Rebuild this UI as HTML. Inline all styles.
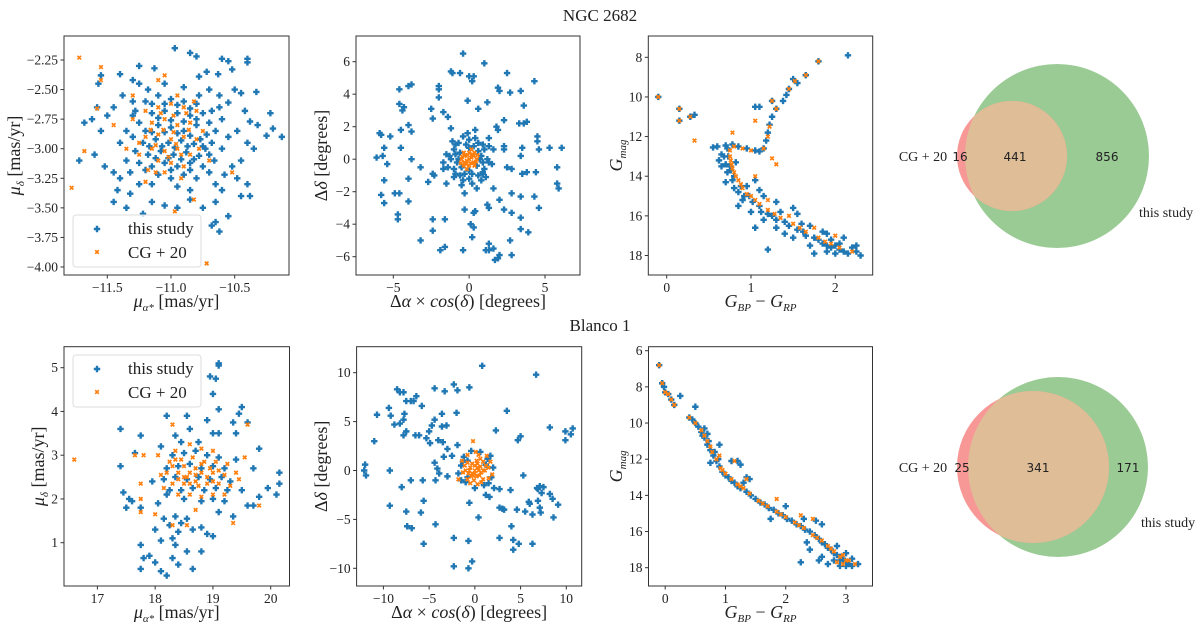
<!DOCTYPE html>
<html><head><meta charset="utf-8"><style>
html,body{margin:0;padding:0;background:#fff}
svg{display:block}
text{font-family:"Liberation Serif",serif;fill:#222}
.num{font-family:"DejaVu Sans","Liberation Sans",sans-serif;font-size:12px}
</style></head><body>
<svg id="fig" width="1200" height="630" viewBox="0 0 1200 630" xmlns="http://www.w3.org/2000/svg">
<text x="600" y="21" text-anchor="middle" font-size="17">NGC 2682</text>
<text x="600" y="331" text-anchor="middle" font-size="17">Blanco 1</text>
<g>
<defs><clipPath id="cg1"><circle cx="1057" cy="156" r="92"/></clipPath><clipPath id="cg2"><circle cx="1058" cy="467" r="90"/></clipPath></defs>
<circle cx="1057" cy="156" r="92" fill="#9bcb95"/>
<circle cx="1012" cy="156" r="55" fill="#f79896"/>
<circle cx="1012" cy="156" r="55" fill="#dfbd97" clip-path="url(#cg1)"/>
<text x="923" y="161" text-anchor="middle" font-size="14">CG + 20</text>
<text x="960" y="161" text-anchor="middle" class="num">16</text>
<text x="1015" y="161" text-anchor="middle" class="num">441</text>
<text x="1107" y="161" text-anchor="middle" class="num">856</text>
<text x="1139" y="217" font-size="14">this study</text>
</g>
<g>
<circle cx="1058" cy="467" r="90" fill="#9bcb95"/>
<circle cx="1033" cy="467" r="76" fill="#f79896"/>
<circle cx="1033" cy="467" r="76" fill="#dfbd97" clip-path="url(#cg2)"/>
<text x="923" y="472" text-anchor="middle" font-size="14">CG + 20</text>
<text x="962" y="472" text-anchor="middle" class="num">25</text>
<text x="1038" y="472" text-anchor="middle" class="num">341</text>
<text x="1128" y="472" text-anchor="middle" class="num">171</text>
<text x="1141" y="527" font-size="14">this study</text>
</g>
</svg>
<script>
// ---- NGC 2682 proper motions ----
const ngcPmBlue=[[-10.97,-2.15],[-10.85,-2.19],[-10.8,-2.22],[-10.6,-2.24],[-10.55,-2.26],[-10.4,-2.24],[-10.4,-2.27],[-11.25,-2.3],[-11.13,-2.32],[-11.4,-2.37],[-10.72,-2.35],[-10.52,-2.33],[-10.78,-2.39],[-11.55,-2.38],[-11.57,-2.45],[-11.3,-2.42],[-10.63,-2.37],[-10.5,-2.5],[-10.45,-2.53],[-10.33,-2.52],[-10.55,-2.61],[-10.42,-2.68],[-10.38,-2.77],[-10.22,-2.7],[-10.32,-2.8],[-10.2,-2.83],[-10.13,-2.9],[-10.25,-2.89],[-10.48,-2.85],[-10.4,-2.95],[-10.35,-3.0],[-10.45,-3.1],[-10.52,-3.15],[-10.48,-3.25],[-10.4,-3.3],[-10.38,-3.4],[-10.45,-3.4],[-10.6,-3.35],[-10.55,-3.57],[-10.65,-3.62],[-10.62,-3.7],[-10.68,-3.65],[-10.75,-3.5],[-10.85,-3.43],[-10.95,-3.5],[-11.05,-3.48],[-11.15,-3.45],[-11.22,-3.55],[-11.35,-3.5],[-11.45,-3.45],[-11.42,-3.35],[-11.6,-3.05],[-11.68,-2.78],[-11.72,-3.1],[-11.62,-2.75],[-11.55,-2.85],[-11.58,-2.65],[-11.5,-2.72],[-11.45,-3.2],[-11.52,-3.15],[-11.32,-3.38],[-11.25,-3.3],[-11.38,-2.55],[-11.3,-2.6],[-10.7,-2.5],[-10.62,-2.55],[-10.65,-3.45],
[-11.2,-2.6],[-11.1,-2.55],[-11.0,-2.58],[-10.9,-2.6],[-10.8,-2.62],[-11.15,-2.7],[-11.05,-2.68],[-10.95,-2.7],[-10.85,-2.72],[-10.75,-2.7],[-10.7,-2.78],[-11.25,-2.78],[-11.2,-2.85],[-11.1,-2.8],[-11.0,-2.82],[-10.9,-2.85],[-10.8,-2.8],[-10.72,-2.88],[-10.65,-2.85],[-11.3,-2.9],[-11.22,-2.95],[-11.12,-2.92],[-11.02,-2.95],[-10.92,-2.93],[-10.82,-2.96],[-10.75,-2.98],[-10.68,-2.95],[-11.28,-3.02],[-11.18,-3.05],[-11.08,-3.02],[-10.98,-3.05],[-10.88,-3.03],[-10.78,-3.06],[-10.7,-3.05],[-11.25,-3.12],[-11.15,-3.15],[-11.05,-3.12],[-10.95,-3.15],[-10.85,-3.12],[-10.75,-3.15],[-11.1,-3.22],[-11.0,-3.25],[-10.9,-3.22],[-10.8,-3.25],[-11.35,-2.85],[-11.35,-3.1],[-10.6,-3.0],[-10.6,-2.75],[-11.05,-2.45],[-10.9,-2.48],[-11.15,-3.3],[-10.95,-3.32],[-10.7,-3.2],[-11.4,-2.95],[-10.55,-2.9],[-10.62,-2.65],[-10.66,-3.1],[-11.28,-2.68],[-11.18,-2.5],[-10.78,-2.55],[-10.85,-3.35],[-11.4,-3.25],[-10.58,-3.22],[-11.45,-2.65],
[-11.15,-2.62],[-11.05,-2.62],[-10.95,-2.63],[-10.85,-2.66],[-11.1,-2.74],[-11.0,-2.76],[-10.9,-2.77],[-10.8,-2.75],[-11.15,-2.86],[-11.05,-2.86],[-10.95,-2.87],[-10.85,-2.89],[-10.77,-2.92],[-11.17,-2.98],[-11.07,-2.98],[-10.97,-2.99],[-10.87,-2.98],[-10.73,-3.0],[-11.12,-3.08],[-11.02,-3.08],[-10.92,-3.09],[-10.82,-3.09],[-11.2,-3.18],[-11.0,-3.18],[-10.85,-3.18],[-11.3,-2.72],[-10.68,-2.68],[-11.32,-3.2],[-10.65,-3.3],[-11.25,-2.45]];
const ngcPmOrange=[[-11.72,-2.23],[-11.55,-2.31],[-11.78,-3.33],[-10.52,-3.2],[-10.82,-3.43],[-10.97,-3.53],[-10.72,-3.97],[-11.68,-3.02],[-11.58,-2.66],[-11.55,-2.42],[-11.1,-2.42],[-11.05,-2.38],[-11.45,-2.8],[-11.2,-3.28],[-11.3,-2.55],
[-11.1,-2.65],[-11.0,-2.62],[-10.9,-2.65],[-10.8,-2.68],[-11.15,-2.78],[-11.05,-2.75],[-10.95,-2.8],[-10.85,-2.78],[-11.2,-2.9],[-11.1,-2.88],[-11.0,-2.92],[-10.9,-2.9],[-10.8,-2.92],[-11.15,-3.0],[-11.05,-3.02],[-10.95,-3.0],[-10.85,-3.05],[-11.1,-3.1],[-11.0,-3.12],[-10.9,-3.15],[-11.25,-3.05],[-10.75,-2.85],[-11.3,-2.75],[-10.7,-3.1],[-11.05,-3.2],[-10.95,-2.55],[-11.12,-2.97],[-10.98,-2.86],[-11.02,-3.07],[-10.88,-2.7],[-11.25,-2.95],[-10.78,-3.0],[-11.35,-3.0],[-11.18,-3.18],[-10.92,-3.25],
[-11.06,-2.84],[-10.96,-2.96],[-11.16,-2.84],[-10.86,-2.84],[-11.08,-2.7],[-10.92,-3.05],[-11.2,-2.68],[-10.82,-2.6],[-11.12,-3.2],[-10.98,-2.72]];
// ---- NGC 2682 spatial ----
const ngcSkyBlue=[[-0.4,6.5],[1.0,5.9],[-1.1,5.3],[-1.2,5.4],[-0.6,5.3],[0.0,5.1],[0.3,5.1],[0.2,4.8],[2.5,5.3],[4.3,4.8],[-3.8,4.6],[-4.0,4.5],[-4.6,4.3],[-2.0,4.5],[-2.0,4.3],[1.9,4.4],[2.0,4.2],[2.7,4.1],[3.4,4.2],[-2.0,3.8],[-0.1,3.6],[1.2,3.5],[3.6,3.3],[-4.6,3.4],[-4.3,3.2],[-4.4,3.0],[-2.5,3.1],[-1.7,2.9],[-2.4,2.5],[-1.4,2.6],[0.6,3.1],[-4.0,2.1],[-4.5,1.8],[-3.8,1.7],[-5.9,1.6],[-5.8,1.5],[-5.2,1.4],[2.3,2.4],[1.8,2.0],[1.9,1.8],[3.3,2.2],[3.6,2.2],[3.8,2.3],[4.5,1.4],[4.5,1.1],[-5.6,0.7],[-4.5,0.7],[-6.1,0.1],[-5.7,0.2],[-5.4,-0.3],[-3.8,0.0],[-3.2,-0.5],[5.3,0.7],[6.1,0.7],[4.6,0.6],[3.4,0.2],[3.5,0.7],[2.3,0.6],[1.6,0.6],[2.3,0.8],[5.8,-0.5],[2.5,-0.5],[2.8,-0.6],[3.5,-0.9],[3.8,-0.8],[4.4,-0.8],[-2.4,-0.9],[-2.3,-1.0],[-1.7,-0.6],[-5.6,-1.3],[-4.0,-1.2],[-2.7,-1.4],[-1.5,-1.5],[-5.8,-2.2],[-4.9,-2.1],[-4.6,-2.1],[-5.6,-2.7],[-4.0,-2.6],[-0.3,-2.1],[1.6,-1.8],[2.0,-2.5],[2.8,-2.1],[3.4,-2.3],[4.3,-2.3],[1.2,-2.8],[1.3,-3.0],[2.3,-3.1],[2.8,-3.3],[4.6,-3.0],[-0.3,-3.1],[0.4,-3.2],[0.3,-3.3],[-4.7,-3.4],[-4.7,-3.7],[-2.4,-3.7],[-1.6,-3.7],[0.1,-4.0],[0.3,-4.2],[3.4,-3.6],[-2.4,-4.4],[0.2,-4.8],[3.4,-4.3],[3.9,-4.5],[-3.2,-5.0],[1.3,-5.2],[2.7,-5.0],[-1.6,-5.4],[-1.9,-5.6],[-0.4,-5.6],[1.1,-5.6],[1.3,-5.6],[1.6,-5.5],[2.0,-5.9],[2.8,-5.9],[1.7,-6.2],[1.9,-6.1],[5.8,-1.5],[5.9,-1.8],[0.9,-0.8],[-0.5,-1.6],[-1.0,-1.1],[1.3,1.3],[0.4,1.8],[-1.2,1.9],
[-1.2,0],[-1,0.6],[-0.7,1.0],[0,1.2],[0.6,1.0],[1,0.6],[1.2,0],[1,-0.6],[0.6,-1.0],[0,-1.2],[-0.6,-1.0],[-1,-0.6],[-0.6,0.4],[0.6,0.5],[-0.5,-0.5],[0.5,-0.4],[-0.9,0.3],[0.9,-0.2],[0.3,0.8],[-0.3,-0.9],[0.2,-1.5],[-0.4,1.4],[1.3,0.8],[-1.4,-0.5],[-0.1,1.6],[0.8,-1.3],[-0.8,-0.2],[0.8,0.2],[-0.2,0.9],[0.2,-0.9],[1.5,-0.3],[-1.5,0.3],
[-0.9,0.9],[0.9,0.9],[0.9,-0.9],[-0.9,-0.9],[-1.3,0.2],[1.3,-0.2],[0.4,1.3],[-0.4,-1.3],[-0.7,0.0],[0.7,0.0],[0,0.7],[0,-0.7],[1.1,-1.1],[-1.1,1.1],[0.5,-1.8],[-1.7,-0.2]];
const ngcSkyOrange=[[0,0],[0.3,0.2],[-0.3,0.2],[0.3,-0.2],[-0.3,-0.2],[0,0.4],[0,-0.4],[0.5,0],[-0.5,0],[0.35,0.4],[-0.35,0.4],[0.35,-0.4],[-0.35,-0.4],[0.15,0.6],[-0.15,-0.6],[0.55,0.25],[-0.55,-0.25],[0.15,0.1],[-0.15,-0.1],[0.2,0.3],[-0.2,-0.3],[0.45,-0.15],[-0.45,0.15],[0.1,-0.25],[-0.1,0.25]];
// ---- NGC 2682 CMD ----
const ngcCmdBlue=[[2.15,7.9],[1.8,8.2],[1.65,8.9],[1.5,9.1],[1.55,9.3],[1.45,9.6],[1.42,9.9],[1.38,10.2],[1.25,10.2],[1.3,10.6],[1.05,10.5],[1.1,10.5],[-0.1,10.0],[0.15,10.6],[0.15,11.2],[0.28,11.0],[0.33,10.9],[1.25,11.0],[1.22,11.4],[1.2,11.8],[1.18,12.2],[1.15,12.6],[1.1,12.75],[1.05,12.7],[0.95,12.6],[0.85,12.5],[0.78,12.4],[0.7,12.45],[0.6,12.5],[0.55,12.55],[0.62,13.2],[0.65,12.9],[0.72,12.6],[0.73,13.0],[0.75,13.5],[0.8,14.0],[0.72,13.8],[0.88,14.5],[0.8,14.6],[0.98,15.0],[0.9,15.2],[1.1,15.5],[1.0,15.8],[1.25,16.0],[1.15,16.2],[1.45,16.5],[1.3,16.6],[1.65,17.0],[1.5,17.1],[1.9,17.5],[1.7,17.5],[2.1,17.8],[2.0,17.9],[2.3,18.0],[2.2,17.6],[1.8,17.2],[1.2,17.7],[1.75,17.9],[1.4,16.9],[1.6,16.4],[1.05,16.6],[0.85,15.5],[0.95,14.5],[1.05,14.2],[1.15,15.0],[1.3,15.3],[1.35,15.8],[1.55,15.9],[1.7,16.5],[1.85,16.8],[1.95,17.2],[2.05,17.4],[2.25,17.5],[0.65,13.5],[0.7,14.3],[0.82,13.3],[1.1,14.7],[1.5,15.6],[1.9,16.9],[2.1,17.1],
[0.78,14.2],[0.85,14.8],[0.92,15.0],[1.02,15.3],[1.12,15.8],[1.2,15.9],[1.3,16.2],[1.4,16.3],[1.55,16.7],[1.62,16.8],[1.75,17.1],[1.85,17.4],[1.95,17.6],[2.05,17.7],[2.15,17.9],[2.25,17.8],[1.9,17.8],[2.0,17.5],[0.68,13.0],[0.7,13.4],[0.76,13.7]];
const ngcCmdOrange=[[1.8,8.2],[1.65,8.9],[1.52,9.2],[1.45,9.6],[1.25,10.2],[1.3,10.6],[-0.1,10.0],[0.15,10.6],[0.15,11.2],[0.28,11.0],[0.33,12.2],[1.05,11.2],[0.78,11.8],[1.25,13.1],[1.3,13.4],[1.05,14.0],[1.22,11.5],[1.2,12.0],[1.15,12.6],[1.0,12.7],[0.9,12.6],[0.8,12.5],[0.75,12.7],[0.75,13.0],[0.77,13.4],[0.8,13.8],[0.85,14.2],[0.9,14.6],[1.0,15.0],[1.1,15.4],[1.2,15.7],[1.35,16.1],[1.5,16.4],[1.65,16.8],[1.8,17.1],[1.95,17.4],[2.05,17.6],[2.2,17.8],[0.95,14.9],[1.2,15.2],[1.45,16.0],[1.75,16.6],[2.0,17.0],[0.76,13.2],[0.78,13.6],[0.82,14.0],[0.88,14.4],[1.05,15.2],[1.28,15.9],[1.58,16.6],[1.88,17.3]];
// ---- Blanco 1 proper motions ----
const blaPmBlue=[[19.1,5.1],[19.1,5.05],[18.95,4.8],[19.05,4.75],[19.0,4.4],[19.1,4.05],[19.5,4.1],[19.45,3.95],[18.2,3.9],[18.55,3.9],[18.9,3.8],[19.6,3.75],[19.35,3.75],[17.4,3.6],[18.6,3.6],[19.1,3.5],[19.0,3.5],[18.35,3.45],[17.75,3.45],[19.4,3.5],[19.8,3.15],[17.65,3.05],[17.4,2.75],[19.7,2.7],[20.15,2.6],[20.15,2.35],[19.95,2.25],[20.1,2.1],[19.8,2.05],[17.45,2.15],[17.55,2.0],[17.5,1.8],[17.6,1.95],[17.75,1.8],[18.05,1.9],[18.15,1.55],[18.0,1.3],[18.1,1.05],[17.75,0.95],[17.8,0.65],[17.75,0.4],[17.9,0.7],[18.0,0.55],[18.1,0.35],[18.2,0.25],[18.3,0.65],[18.35,0.95],[18.4,0.5],[18.55,0.8],[18.65,0.4],[18.8,0.8],[18.3,1.1],[18.4,1.25],[18.55,1.55],[18.65,1.3],[18.8,1.35],[18.9,1.2],[19.0,1.15],[19.1,1.7],[19.2,1.95],[19.35,1.6],[19.6,1.85],[19.7,1.85],[18.35,1.6],[18.45,1.45],[18.25,1.4],[18.2,2.1],[17.95,2.4],[19.5,2.2],[19.4,2.9],[18.1,3.2],[18.45,3.3],[18.75,3.3],
[18.3,3.0],[18.5,3.05],[18.7,3.1],[18.9,3.0],[19.1,2.95],[18.2,2.7],[18.4,2.75],[18.6,2.8],[18.8,2.7],[19.0,2.75],[19.2,2.7],[18.15,2.45],[18.35,2.5],[18.55,2.45],[18.75,2.5],[18.95,2.45],[19.15,2.5],[19.3,2.4],[18.25,2.2],[18.45,2.2],[18.65,2.25],[18.85,2.2],[19.05,2.25],[19.25,2.2],[18.5,2.0],[18.8,1.95],[19.0,2.0]];
const blaPmOrange=[[16.6,2.9],[17.65,3.0],[17.8,3.0],[17.75,2.0],[17.75,1.7],[18.0,1.65],[19.35,1.45],[19.55,2.95],[19.6,3.7],[18.3,3.7],[18.7,1.75],[18.3,1.4],[19.8,1.85],[18.55,1.4],[17.75,2.35],[18.05,3.0],
[18.35,3.1],[18.6,3.25],[18.8,3.15],[19.0,3.1],[18.25,2.85],[18.45,2.9],[18.65,2.95],[18.85,2.85],[19.05,2.85],[19.25,2.8],[18.2,2.6],[18.4,2.6],[18.6,2.6],[18.8,2.6],[19.0,2.6],[19.2,2.55],[19.4,2.6],[18.3,2.35],[18.5,2.35],[18.7,2.4],[18.9,2.35],[19.1,2.35],[19.3,2.3],[18.4,2.1],[18.6,2.1],[18.8,2.05],[19.0,2.1],[19.2,2.1],[18.1,2.55],[18.5,2.75],[18.7,2.7],[18.95,2.7],[18.55,2.5],[18.75,2.3],[19.45,2.45],[18.15,2.25],
[18.3,2.75],[18.5,2.5],[18.7,2.55],[18.9,2.5],[19.1,2.65],[18.4,2.45],[18.6,2.35],[18.8,2.8],[19.0,2.4],[18.35,2.9]];
// ---- Blanco 1 spatial ----
const blaSkyBlue=[[0.8,10.7],[6.7,9.8],[-8.5,8.3],[-8.2,8.0],[-7.8,8.0],[-2.3,8.8],[-1.9,8.2],[-4.4,8.4],[-3.3,8.1],[-0.6,8.5],[-6.4,7.6],[-6.7,7.1],[-7.5,7.1],[-7.0,7.1],[-9.4,6.4],[-10.7,5.7],[-9.2,5.6],[-7.7,5.8],[-7.8,5.2],[-5.8,6.6],[-8.2,4.8],[-8.8,4.7],[-3.6,5.8],[-2.0,5.9],[-4.4,5.2],[-4.7,4.6],[-3.6,4.5],[-3.1,4.6],[-5.0,4.0],[-7.5,4.0],[-7.8,3.6],[-6.1,3.6],[-6.5,3.6],[-11.0,3.0],[-5.3,3.3],[-4.9,2.8],[-4.0,3.1],[-3.5,2.9],[-3.0,2.2],[-2.5,1.5],[-3.4,1.4],[-1.9,2.6],[3.5,6.1],[2.3,4.1],[5.0,3.5],[8.2,4.4],[9.9,4.0],[10.7,4.3],[9.9,3.1],[10.5,3.7],[4.7,3.1],[-12.0,0.6],[-12.1,0.0],[-11.9,-0.5],[-9.3,0.0],[-4.4,0.8],[-4.1,0.2],[-3.9,-0.3],[-4.3,-1.0],[-7.0,-1.0],[-5.7,-1.0],[-8.0,-1.7],[-3.0,-0.6],[-9.3,-3.6],[-5.6,-3.1],[-5.9,-4.3],[-7.5,-4.2],[-7.4,-5.7],[-6.9,-5.9],[-4.3,-5.5],[-5.6,-7.5],[-2.3,-6.9],[-0.7,-7.2],[-2.3,-9.8],[-0.7,-10.0],[-0.3,-9.3],[0.4,-4.8],[1.6,-2.7],[1.2,-2.5],[2.7,-3.8],[3.2,-4.0],[3.9,-2.0],[2.7,-1.9],[4.0,-5.7],[4.2,-7.1],[4.8,-7.5],[6.3,-7.5],[4.6,-4.0],[5.9,-3.2],[6.0,-3.4],[5.5,-4.2],[6.9,-3.1],[6.9,-1.9],[7.1,-1.6],[7.5,-1.7],[7.3,-2.3],[8.2,-2.4],[8.5,-2.9],[9.1,-3.5],[7.1,-3.8],[7.2,-4.3],[6.3,-4.5],[8.6,-4.8],[5.3,-0.5],[2.7,-6.9],[4.2,-8.1],[3.0,-3.9],[-0.6,-3.3],[-0.8,-0.7],[1.5,-1.3],[2.1,-1.8],[-1.3,0.9],[1.7,1.5],[-1.5,-1.0],[6.8,-1.8],
[-1.5,0.5],[-1.2,1.4],[-0.4,2.0],[0.6,1.9],[1.4,1.2],[2.0,0.3],[1.8,-0.7],[1.0,-1.5],[0.0,-1.8],[-1.0,-1.2],[-1.8,-0.3],[-0.8,1.0],[1.2,0.6]];
const blaSkyOrange=[[0,0],[0.6,0.4],[-0.5,0.3],[0.5,-0.5],[-0.4,-0.6],[0.2,1.0],[-0.1,-1.0],[1.1,0],[-1.0,0],[0.9,0.9],[-0.8,0.8],[0.9,-0.9],[-0.8,-0.9],[0.4,1.6],[0.3,-1.4],[1.5,0.3],[-1.3,-0.2],[0.3,0.3],[-0.3,-0.3],[0.0,0.5],[1.5,-0.8],[-1.8,-0.9],[1.9,-0.4],[-0.8,1.6],[-0.2,3.0],[1.3,1.5],
[0.3,0.7],[-0.3,0.7],[0.7,-0.2],[-0.7,-0.3],[0.2,-0.6],[-0.2,-0.5],[1.2,0.5],[-1.1,0.5],[0.6,1.2],[0.7,-1.2],[-0.5,-1.3],[1.7,0.9],[-1.4,1.0],[0.1,1.9],[0.9,0.0],[-0.6,0.0],[0.0,-0.3],[0.4,0.0]];
// ---- Blanco 1 CMD ----
const blaCmdBlue=[[-0.1,6.8],[-0.05,7.8],[-0.02,8.0],[0.0,8.3],[0.05,8.4],[0.1,8.7],[0.15,9.0],[0.25,8.5],[0.5,9.1],[0.4,9.7],[0.45,9.8],[0.5,10.0],[0.55,10.2],[0.6,10.5],[0.65,10.8],[0.7,11.2],[0.75,11.5],[0.8,11.8],[0.85,12.1],[0.9,12.4],[0.95,12.7],[1.05,13.0],[1.15,13.3],[1.25,13.6],[1.35,13.8],[1.5,14.2],[1.65,14.5],[1.8,14.8],[1.95,15.1],[2.1,15.4],[2.25,15.7],[2.4,16.0],[2.55,16.4],[2.65,16.7],[2.75,17.0],[2.85,17.3],[2.95,17.6],[3.05,17.8],[3.2,17.8],[0.9,11.2],[1.1,12.1],[1.2,12.1],[1.25,12.3],[1.35,13.0],[1.4,13.1],[1.3,13.3],[1.75,15.3],[2.35,16.6],[2.4,17.0],[2.25,17.7],[2.55,17.6],[2.7,17.8],[2.0,14.6],[2.3,15.3],[2.5,15.4],[2.6,15.6],[2.85,16.8],[3.0,17.2],[3.1,17.5],[2.9,17.9],[2.8,17.6],[0.75,12.2],[0.65,10.3],[0.7,10.6],[2.9,17.4],[3.0,17.9],[2.95,17.5],[2.6,17.4],
[0.62,10.7],[0.72,11.0],[0.82,11.6],[0.88,12.0],[1.0,12.9],[1.1,13.2],[1.2,13.5],[1.42,14.0],[1.58,14.4],[1.72,14.7],[1.88,15.0],[2.02,15.3],[2.18,15.6],[2.32,15.9],[2.48,16.2],[2.6,16.6],[2.7,16.9],[2.8,17.2],[2.9,17.6],[3.0,17.7],[3.1,17.9]];
const blaCmdOrange=[[-0.1,6.8],[-0.05,7.8],[0.0,8.3],[0.05,8.4],[0.1,8.7],[0.15,9.0],[0.4,9.7],[0.5,10.0],[0.6,10.4],[0.7,11.0],[0.78,11.6],[0.85,12.0],[0.92,12.5],[1.0,12.8],[1.1,13.1],[1.2,13.4],[1.3,13.6],[1.4,13.9],[1.55,14.3],[1.7,14.6],[1.85,14.9],[2.0,15.2],[2.15,15.5],[2.3,15.8],[2.45,16.2],[2.6,16.5],[2.7,16.8],[2.8,17.1],[2.9,17.4],[3.0,17.6],[3.15,17.8],[0.9,11.8],[1.15,12.1],[1.85,14.2],[2.25,15.1],[2.45,15.3],[1.35,13.1],[2.85,17.7],[2.95,17.3],[3.05,17.6],
[0.65,10.7],[0.75,11.3],[0.95,12.6],[1.25,13.5],[1.62,14.45],[1.92,15.05],[2.22,15.65],[2.52,16.35],[2.75,16.95],[2.95,17.8]];

const SVGNS="http://www.w3.org/2000/svg";
const fig=document.getElementById('fig');
function el(tag,attrs,parent){const e=document.createElementNS(SVGNS,tag);for(const k in attrs)e.setAttribute(k,attrs[k]);(parent||fig).appendChild(e);return e;}
function lin(d0,p0,d1,p1){const k=(p1-p0)/(d1-d0);return v=>p0+(v-d0)*k;}
function fmt(v,dec){const s=Math.abs(v).toFixed(dec);return (v<0?'\u2212':'')+s;}
function plusPath(x,y){const a=3.2,b=1.2;return `M${x-b},${y-a}H${x+b}V${y-b}H${x+a}V${y+b}H${x+b}V${y+a}H${x-b}V${y+b}H${x-a}V${y-b}H${x-b}Z`;}
function xPath(x,y){const a=1.8;return `M${x-a},${y-a}L${x+a},${y+a}M${x-a},${y+a}L${x+a},${y-a}`;}

function panel(c){
  const g=el('g',{});
  
  
  const sx=lin(c.xr[0],c.xr[1],c.xr[2],c.xr[3]);
  const sy=lin(c.yr[0],c.yr[1],c.yr[2],c.yr[3]);
  const [L,T,R,B]=c.frame;
  const id='clip'+c.name;
  const cp=el('clipPath',{id:id},g);el('rect',{x:L,y:T,width:R-L,height:B-T},cp);
  const marks=el('g',{'clip-path':`url(#${id})`},g);
  let d='';c.blue.forEach(p=>{d+=plusPath(sx(p[0]),sy(p[1]));});
  const pb=el('path',{d:d,fill:'#1f77b4'},marks);
  
  
  d='';c.orange.forEach(p=>{d+=xPath(sx(p[0]),sy(p[1]));});
  const po=el('path',{d:d,stroke:'#ff7f0e','stroke-width':1.7,fill:'none'},marks);
  
  
  el('rect',{x:L,y:T,width:R-L,height:B-T,fill:'none',stroke:'#333','stroke-width':1},g);
  c.xt.forEach(v=>{const x=sx(v);el('line',{x1:x,y1:B,x2:x,y2:B+3.5,stroke:'#333'},g);
    const t=el('text',{x:x,y:B+17,'text-anchor':'middle','font-size':13.5},g);t.textContent=fmt(v,c.xd);
    
    });
  c.yt.forEach(v=>{const y=sy(v);el('line',{x1:L-3.5,y1:y,x2:L,y2:y,stroke:'#333'},g);
    const t=el('text',{x:L-6,y:y+4.5,'text-anchor':'end','font-size':13.5},g);t.textContent=fmt(v,c.yd);
    
    });
  const xl=el('text',{x:(L+R)/2,y:B+c.xly,'text-anchor':'middle','font-size':18},g);xl.innerHTML=c.xlab;
  
  
  const yl=el('text',{x:0,y:0,'text-anchor':'middle','font-size':18,transform:`translate(${c.ylx},${(T+B)/2}) rotate(-90)`},g);yl.innerHTML=c.ylab;
  
  
  if(c.legend){const [lx,ly]=c.legend;
    const lg=el('g',{},g);
    
    
    el('rect',{x:lx,y:ly,width:128,height:52,rx:3,fill:'#fff','fill-opacity':0.8,stroke:'#ddd'},lg);
    el('path',{d:plusPath(lx+24,ly+14),fill:'#1f77b4'},lg);
    const t1=el('text',{x:lx+55,y:ly+19,'font-size':17},lg);t1.textContent='this study';
    
    
    el('path',{d:xPath(lx+24,ly+37),stroke:'#ff7f0e','stroke-width':1.7},lg);
    const t2=el('text',{x:lx+55,y:ly+43,'font-size':17},lg);t2.textContent='CG + 20';
    
    }
}
const pmX='<tspan font-style="italic">μ</tspan><tspan font-size="11" dy="4" font-style="italic">α*</tspan><tspan dy="-4"> [mas/yr]</tspan>';
const pmY='<tspan font-style="italic">μ</tspan><tspan font-size="11" dy="4" font-style="italic">δ</tspan><tspan dy="-4"> [mas/yr]</tspan>';
const skX='Δ<tspan font-style="italic">α</tspan> × <tspan font-style="italic">cos</tspan>(<tspan font-style="italic">δ</tspan>) [degrees]';
const skY='Δ<tspan font-style="italic">δ</tspan> [degrees]';
const cmX='<tspan font-style="italic">G</tspan><tspan font-size="11" dy="4" font-style="italic">BP</tspan><tspan dy="-4"> − </tspan><tspan font-style="italic">G</tspan><tspan font-size="11" dy="4" font-style="italic">RP</tspan>';
const cmY='<tspan font-style="italic">G</tspan><tspan font-size="11" dy="4" font-style="italic">mag</tspan>';

panel({name:'ngc2682-proper-motion',frame:[64,36,289,275],xr:[-11.5,107.3,-10.5,234.7],yr:[-2.25,60,-4.0,267],xt:[-11.5,-11.0,-10.5],xd:1,yt:[-2.25,-2.5,-2.75,-3.0,-3.25,-3.5,-3.75,-4.0],yd:2,blue:ngcPmBlue,orange:ngcPmOrange,xlab:pmX,ylab:pmY,xly:32,ylx:20,legend:[73,215]});
panel({name:'ngc2682-sky',frame:[356,36,580,275],xr:[-5,393.3,5,545],yr:[6,61.7,-6,256.7],xt:[-5,0,5],xd:0,yt:[-6,-4,-2,0,2,4,6],yd:0,blue:ngcSkyBlue,orange:ngcSkyOrange,xlab:skX,ylab:skY,xly:32,ylx:327});
panel({name:'ngc2682-cmd',frame:[648.3,36,872.7,275],xr:[0,666.7,2,835.3],yr:[8,57.3,18,255.5],xt:[0,1,2],xd:0,yt:[8,10,12,14,16,18],yd:0,blue:ngcCmdBlue,orange:ngcCmdOrange,xlab:cmX,ylab:cmY,xly:32,ylx:622});
panel({name:'blanco1-proper-motion',frame:[64,346.7,289.5,586],xr:[17,97.4,20,270.7],yr:[5,367.7,1,542.7],xt:[17,18,19,20],xd:0,yt:[1,2,3,4,5],yd:0,blue:blaPmBlue,orange:blaPmOrange,xlab:pmX,ylab:pmY,xly:32,ylx:44,legend:[73,355]});
panel({name:'blanco1-sky',frame:[356.6,346.7,581.7,586],xr:[-10,383.4,10,566.3],yr:[10,372.7,-10,568.3],xt:[-10,-5,0,5,10],xd:0,yt:[-10,-5,0,5,10],yd:0,blue:blaSkyBlue,orange:blaSkyOrange,xlab:skX,ylab:skY,xly:32,ylx:327});
panel({name:'blanco1-cmd',frame:[648.5,346.7,872.5,586],xr:[0,665.2,3,846],yr:[6,350.7,18,567.7],xt:[0,1,2,3],xd:0,yt:[6,8,10,12,14,16,18],yd:0,blue:blaCmdBlue,orange:blaCmdOrange,xlab:cmX,ylab:cmY,xly:32,ylx:622});
</script>
</body></html>
